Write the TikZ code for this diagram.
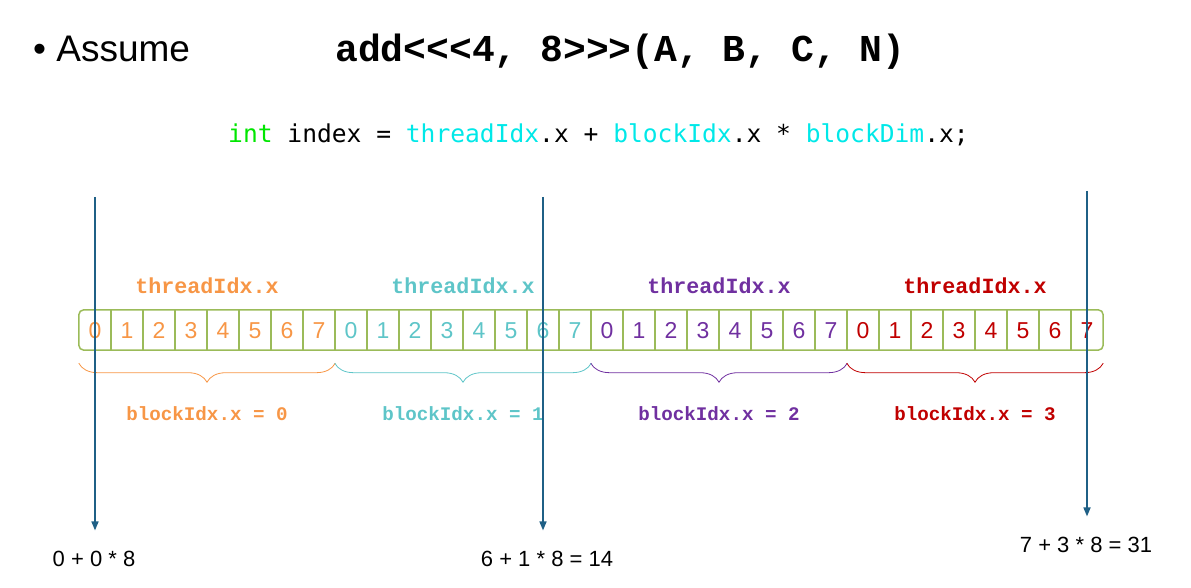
\documentclass[tikz,border=0pt]{standalone}
\usepackage{fontspec}
\setmainfont{Liberation Sans}
\newfontfamily\courfont{Liberation Mono}
\newfontfamily\dvmono{DejaVu Sans Mono}
\usetikzlibrary{arrows.meta,decorations.pathreplacing}

\definecolor{grp0}{HTML}{F79646}
\definecolor{grp1}{HTML}{5EC5C8}
\definecolor{grp2}{HTML}{7030A0}
\definecolor{grp3}{HTML}{C00000}
\definecolor{cellline}{HTML}{9BBB59}
\definecolor{ptrblue}{HTML}{1F6086}
\definecolor{kwgreen}{HTML}{00E600}
\definecolor{idcyan}{HTML}{00E8E8}

\tikzset{
  cell/.style={minimum width=32, minimum height=40, inner sep=0,
    text height=16.5, text depth=0, font=\fontsize{23}{26}\selectfont},
  grplabel/.style={anchor=base, inner sep=0,
    font=\courfont\bfseries\fontsize{21.7}{24}\selectfont},
  blklabel/.style={anchor=base, inner sep=0,
    font=\courfont\bfseries\fontsize{19.2}{21}\selectfont},
  grpbrace/.style={decorate, decoration={brace, mirror, amplitude=19}, line width=0.8},
  ptr/.style={ptrblue, line width=1.6, -{Triangle[length=9, width=7]}},
  sumlabel/.style={anchor=base, inner sep=0, font=\fontsize{22}{24}\selectfont}
}

\begin{document}
\begin{tikzpicture}[x=1pt, y=-1pt]
  \useasboundingbox (0,0) rectangle (1191,588);

  % heading
  \node[anchor=base west, inner sep=0, font=\fontsize{37}{40}\selectfont] (assume) at (33,62) {\textbullet\ Assume};
  \node[anchor=base west, inner sep=0, font=\courfont\bfseries\fontsize{38}{40}\selectfont] (launch) at (335,62) {add<<<4, 8>>>(A, B, C, N)};
  \node[anchor=base west, inner sep=0, font=\dvmono\fontsize{24.6}{28}\selectfont] (index) at (228,143)
    {{\color{kwgreen}int} index = {\color{idcyan}threadIdx}.x + {\color{idcyan}blockIdx}.x * {\color{idcyan}blockDim}.x;};

  % the 32 threads
  \foreach \i in {0,...,31} {
    \pgfmathtruncatemacro{\g}{\i/8}
    \pgfmathtruncatemacro{\t}{\i-8*\g}
    \node[cell, text=grp\g] (c\i) at ({95+32*\i},330) {\t};
  }
  \foreach \i in {0,...,30}
    \draw[cellline, line width=1.5] (c\i.north east) -- (c\i.south east);
  \draw[cellline, line width=1.5, rounded corners=5] (c0.north west) rectangle (c31.south east);

  % blocks
  \foreach \g in {0,...,3} {
    \pgfmathtruncatemacro{\a}{8*\g}
    \pgfmathtruncatemacro{\b}{8*\g+7}
    \node[grplabel, text=grp\g] (thr\g) at ({207+256*\g},293) {threadIdx.x};
    \draw[grpbrace, grp\g] ([yshift=-13]c\a.south west) -- ([yshift=-13]c\b.south east);
    \node[blklabel, text=grp\g] (blk\g) at ({207+256*\g},420) {blockIdx.x = \g};
  }

  % results
  \node[sumlabel] (sum0) at (94,566) {0 + 0 * 8};
  \node[sumlabel] (sum1) at (547,566) {6 + 1 * 8 = 14};
  \node[sumlabel] (sum3) at (1086,552) {7 + 3 * 8 = 31};

  \coordinate (top0) at (95,197);
  \coordinate (top1) at (543,197);
  \coordinate (top3) at (1087,191);
  \draw[ptr] (top0) -- ([yshift=20]sum0.north -| top0);
  \draw[ptr] (top1) -- ([yshift=20]sum1.north -| top1);
  \draw[ptr] (top3) -- ([yshift=20]sum3.north -| top3);
\end{tikzpicture}
\end{document}
